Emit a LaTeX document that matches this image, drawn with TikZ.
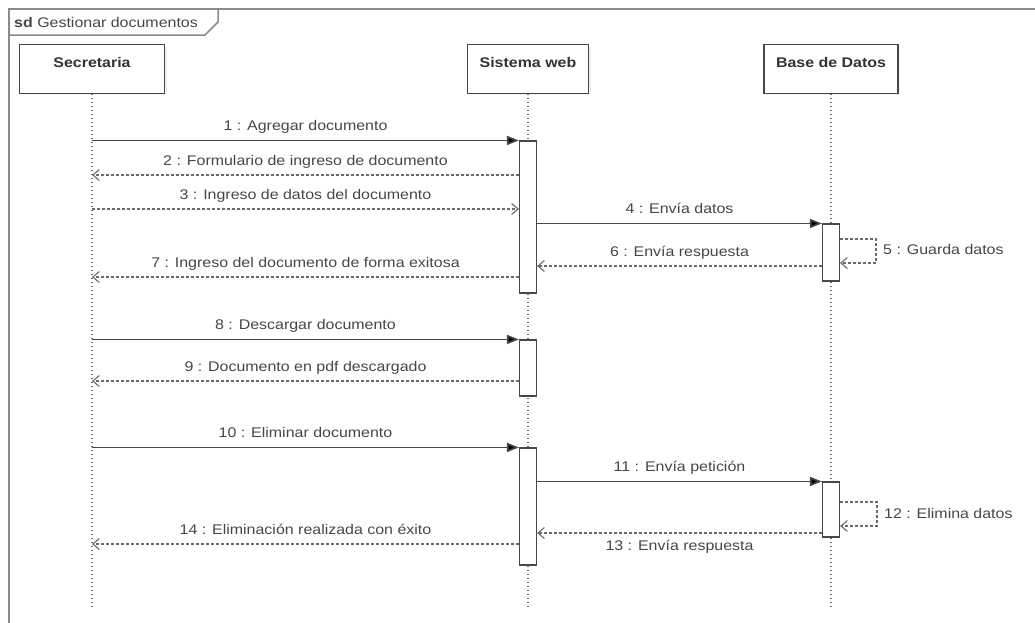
\documentclass[tikz,border=0pt]{standalone}
\usepackage{fontspec}
\setmainfont{Liberation Sans}[FakeStretch=1.14]
\usetikzlibrary{arrows.meta,shadows}
\definecolor{ink}{HTML}{484848}
\definecolor{txt}{HTML}{464646}
\definecolor{framec}{HTML}{8A8A8A}
\definecolor{retc}{HTML}{6A6A6A}
\definecolor{lifec}{HTML}{6A6A6A}

\begin{document}
\begin{tikzpicture}[x=1pt,y=-1pt,
  every node/.style={font=\fontsize{14}{16}\selectfont, text=txt},
  head/.style={draw=ink, line width=1.1pt, fill=white, minimum height=48.5pt,
    inner sep=0pt, drop shadow={opacity=0.12, shadow xshift=2pt, shadow yshift=-2pt}},
  headtext/.style={font=\fontsize{14}{16}\selectfont\bfseries, text=black!80, anchor=base, inner sep=0pt},
  lifeline/.style={draw=lifec, line width=1.1pt, dash pattern=on 1.6pt off 2.4pt},
  actbar/.style={draw=ink, line width=1.1pt, fill=white, minimum width=17pt, inner sep=0pt},
  msg/.style={draw=ink, line width=1.6pt, -{Triangle[length=12pt,width=9pt,fill=black]}},
  ret/.style={draw=retc, line width=1.1pt, dash pattern=on 3pt off 2pt,
    -{Straight Barb[length=6.5pt,width=11pt,line width=1.1pt]}},
  lbl/.style={anchor=base, inner sep=0pt, yshift=9.5pt},
  lblbelow/.style={anchor=base, inner sep=0pt, yshift=-17pt},
  selflbl/.style={anchor=base west, inner sep=0pt}
]
\useasboundingbox (0,0) rectangle (1035,622);
\clip (0,0) rectangle (1035,622);

% outer frame of the interaction
\draw[framec, line width=1.8pt] (9,9) rectangle (1060,650);
\draw[framec, line width=1.5pt] (9,35) -- (205,35) -- (218,22) -- (218,9);
\node[anchor=base west, inner sep=0pt] (title) at (14,27)
  {\textbf{sd} Gestionar documentos};

% lifeline heads
\node[head, minimum width=145pt] (sec) at (92,69) {};
\node[head, minimum width=121pt] (web) at (528,69) {};
\node[head, minimum width=134pt] (bd) at (831,69) {};
\node[headtext] (secT) at (92,67) {Secretaria};
\node[headtext] (webT) at (528,67) {Sistema web};
\node[headtext] (bdT) at (831,67) {Base de Datos};

% lifeline ends
\coordinate (secEnd) at (92,606);
\coordinate (webEnd) at (528,606);
\coordinate (bdEnd) at (831,606);
\draw[lifeline] (sec.south) -- (secEnd);
\draw[lifeline] (web.south) -- (webEnd);
\draw[lifeline] (bd.south) -- (bdEnd);

% activation bars
\node[actbar, minimum height=152pt] (a1) at (528,217) {};
\node[actbar, minimum height=56pt] (a2) at (528,368) {};
\node[actbar, minimum height=117pt] (a3) at (528,506.5) {};
\node[actbar, minimum height=57pt] (b1) at (831,252.5) {};
\node[actbar, minimum height=55pt] (b2) at (831,509.5) {};

% message heights
\coordinate (y2) at (0,175);
\coordinate (y3) at (0,209);
\coordinate (y6) at (0,266);
\coordinate (y7) at (0,277);
\coordinate (y9) at (0,381);
\coordinate (y13) at (0,533);
\coordinate (y14) at (0,544);
\coordinate (s5a) at (876,239);
\coordinate (s5b) at (876,263);
\coordinate (s12a) at (877,502);
\coordinate (s12b) at (877,526);

% first block: adding a document
\draw[msg] (sec |- a1.north) -- (a1.north west)
  node[lbl, midway] (l1) {1 : Agregar documento};
\draw[ret] (a1.west |- y2) -- (sec |- y2)
  node[lbl, midway] (l2) {2 : Formulario de ingreso de documento};
\draw[ret] (sec |- y3) -- (a1.west |- y3)
  node[lbl, midway] (l3) {3 : Ingreso de datos del documento};
\draw[msg] (a1.east |- b1.north) -- (b1.north west)
  node[lbl, midway] (l4) {4 : Envía datos};
\draw[ret] (b1.east |- s5a) -- (s5a) -- (s5b) -- (b1.east |- s5b);
\node[selflbl] (l5) at (883,254) {5 : Guarda datos};
\draw[ret] (b1.west |- y6) -- (a1.east |- y6)
  node[lbl, midway] (l6) {6 : Envía respuesta};
\draw[ret] (a1.west |- y7) -- (sec |- y7)
  node[lbl, midway] (l7) {7 : Ingreso del documento de forma exitosa};

% second block: downloading
\draw[msg] (sec |- a2.north) -- (a2.north west)
  node[lbl, midway] (l8) {8 : Descargar documento};
\draw[ret] (a2.west |- y9) -- (sec |- y9)
  node[lbl, midway] (l9) {9 : Documento en pdf descargado};

% third block: deleting
\draw[msg] (sec |- a3.north) -- (a3.north west)
  node[lbl, midway] (l10) {10 : Eliminar documento};
\draw[msg] (a3.east |- b2.north) -- (b2.north west)
  node[lbl, midway] (l11) {11 : Envía petición};
\draw[ret] (b2.east |- s12a) -- (s12a) -- (s12b) -- (b2.east |- s12b);
\node[selflbl] (l12) at (884,518) {12 : Elimina datos};
\draw[ret] (b2.west |- y13) -- (a3.east |- y13)
  node[lblbelow, midway] (l13) {13 : Envía respuesta};
\draw[ret] (a3.west |- y14) -- (sec |- y14)
  node[lbl, midway] (l14) {14 : Eliminación realizada con éxito};
\end{tikzpicture}
\end{document}
